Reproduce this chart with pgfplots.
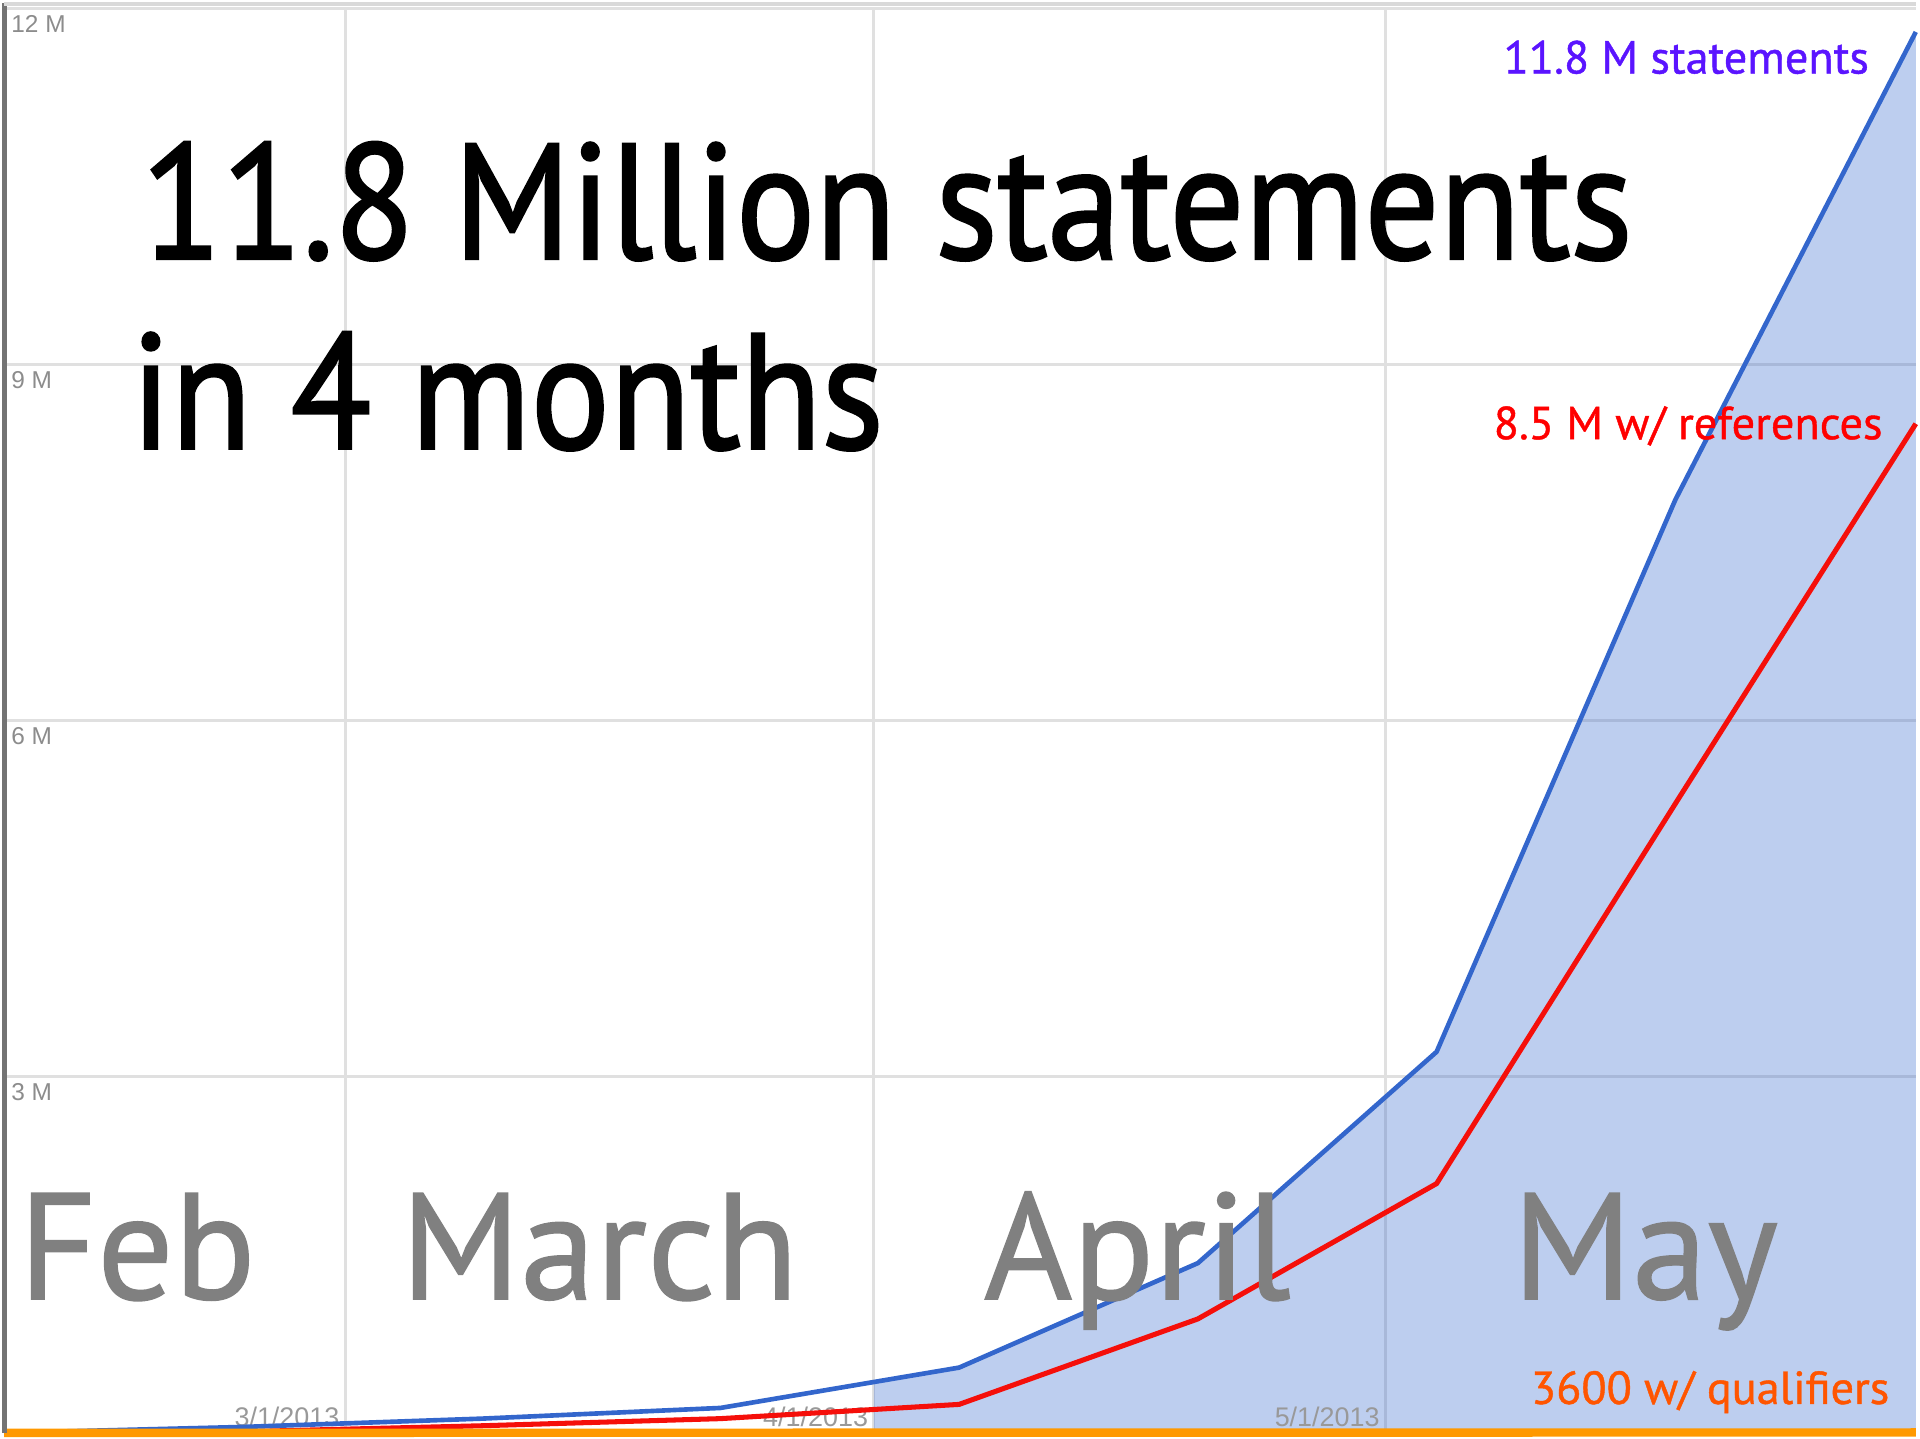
\documentclass[border=0pt]{standalone}
\usepackage{pgfplots}
\pgfplotsset{compat=1.18}
\usepgfplotslibrary{fillbetween}
\usepackage{fontspec}
\setmainfont{PT Sans}
\newfontfamily\headfont[FakeBold=1.6]{PT Sans}
\newfontfamily\monthfont[FakeBold=0.9]{PT Sans}
\newfontfamily\arialfont{Liberation Sans}
\definecolor{gblue}{RGB}{51,102,204}
\definecolor{gred}{RGB}{245,15,10}
\definecolor{gorange}{RGB}{255,153,0}
\definecolor{lblviolet}{RGB}{90,20,255}
\definecolor{lblorange}{RGB}{255,85,0}
\definecolor{monthgray}{RGB}{128,128,128}
\definecolor{gridgray}{RGB}{224,224,224}
\begin{document}
\begin{tikzpicture}
\begin{axis}[
  at={(0.033cm,0.05cm)}, anchor=south west,
  scale only axis, width=15.967cm, height=11.9cm,
  xmin=-20, xmax=92.1, ymin=0, ymax=12,
  clip=false,
  axis line style={draw=none},
  major tick length=0pt,
  grid=major,
  grid style={line width=0.7pt, color=gridgray},
  xtick={0,31,61},
  xticklabels={3/1/2013,4/1/2013,5/1/2013},
  xticklabel style={anchor=south east, inner sep=1.2pt, text=black!40,
    font=\arialfont\fontsize{6.4}{7}\selectfont},
  ytick={3,6,9,12},
  yticklabels={3 M,6 M,9 M,12 M},
  yticklabel style={anchor=north west, inner sep=1.5pt, text=black!45,
    font=\arialfont\fontsize{5.8}{6}\selectfont},
]
% invisible copy of the statements series, used for the shaded area
\addplot[draw=none, name path=B, forget plot] coordinates {
  (-20,0) (-6,0.05) (8,0.12) (22,0.21) (36,0.55) (50,1.43) (64,3.21) (78,7.86) (92.1,11.8)
};
\addplot[draw=none, name path=X, forget plot] coordinates {(-20,0) (92.1,0)};
\addplot[fill=gblue, fill opacity=0.32, draw=none]
  fill between[of=B and X, soft clip={domain=31:92.1}];

% references
\addplot[gred, line width=1.2pt] coordinates {
  (-20,0) (-6,0.01) (8,0.06) (22,0.12) (36,0.24) (50,0.96) (64,2.1) (78,5.3) (92.1,8.5)
};
% statements
\addplot[gblue, line width=1.1pt] coordinates {
  (-20,0) (-6,0.05) (8,0.12) (22,0.21) (36,0.55) (50,1.43) (64,3.21) (78,7.86) (92.1,11.8)
};
% qualifiers
\addplot[gorange, line width=2pt] coordinates {
  (-20,0) (92.1,0.0036)
};

% frame
\draw[black!55, line width=1.2pt] (rel axis cs:0,0) -- (rel axis cs:0,1.004);
\draw[black!15, line width=0.8pt] (rel axis cs:0,1.003) -- (rel axis cs:1,1.003);

% series labels
\node[anchor=base east, text=lblviolet, font=\monthfont\fontsize{11}{12}\selectfont, inner sep=0pt]
  at (axis cs:89.4,11.45) {11.8 M statements};
\node[anchor=base east, text=red, font=\monthfont\fontsize{11}{12}\selectfont, inner sep=0pt]
  at (axis cs:90.2,8.37) {8.5 M w/ references};
\node[anchor=base east, text=lblorange, font=\monthfont\fontsize{11}{12}\selectfont, inner sep=0pt]
  at (axis cs:90.6,0.244) {3600 w/ qualifiers};

% headline
\node[anchor=base west, inner sep=0pt, font=\headfont\fontsize{39}{40}\selectfont]
  at (axis cs:-12.0,9.89) {\scalebox{0.90}[1]{11.8 Million statements}};
\node[anchor=base west, inner sep=0pt, font=\headfont\fontsize{39}{40}\selectfont]
  at (axis cs:-12.6,8.29) {\scalebox{0.90}[1]{in 4 months}};

% month names
\node[anchor=base west, inner sep=0pt, text=monthgray, font=\monthfont\fontsize{36}{37}\selectfont]
  at (axis cs:-19.2,1.126) {Feb};
\node[anchor=base west, inner sep=0pt, text=monthgray, font=\monthfont\fontsize{36}{37}\selectfont]
  at (axis cs:3.2,1.126) {March};
\node[anchor=base west, inner sep=0pt, text=monthgray, font=\monthfont\fontsize{36}{37}\selectfont]
  at (axis cs:37.4,1.126) {April};
\node[anchor=base west, inner sep=0pt, text=monthgray, font=\monthfont\fontsize{36}{37}\selectfont]
  at (axis cs:68.4,1.126) {May};
\end{axis}
\path (0,0) rectangle (16cm,12cm);
\end{tikzpicture}
\end{document}
